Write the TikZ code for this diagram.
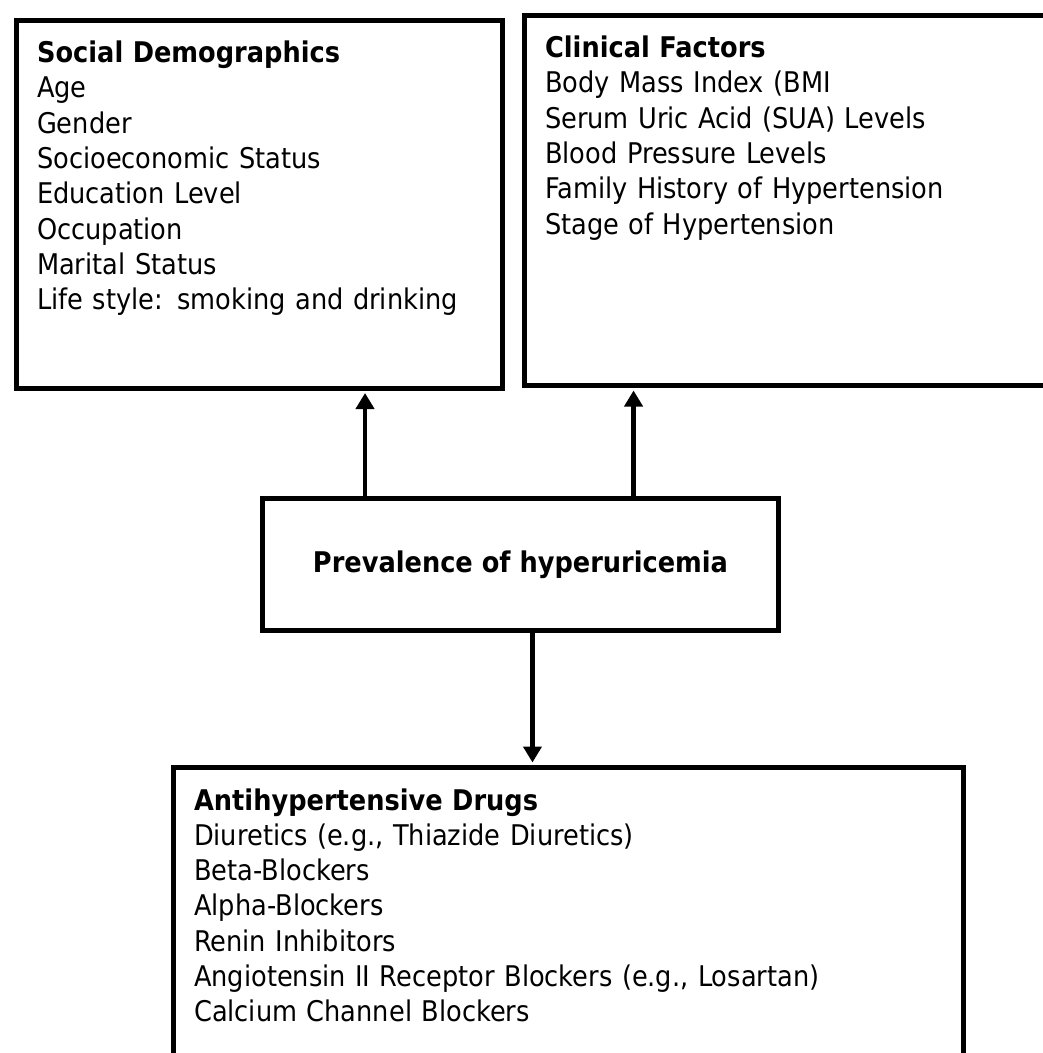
\documentclass[tikz,border=0pt]{standalone}
\usepackage{fontspec}
\setmainfont{DejaVu Sans}[FakeStretch=0.9]
\usepackage{tikz}
\usetikzlibrary{arrows.meta}
\usetikzlibrary{positioning,calc}
\tikzset{
  every node/.style={font=\fontsize{28.5}{35.3}\selectfont}
}

\begin{document}
\begin{tikzpicture}[x=1pt, y=-1pt]
  \tikzset{
    listbox/.style={
      draw,
      rectangle,
      line width=5pt,
      anchor=north west,
      align=left,
      inner xsep=20.6pt,
      inner ysep=20.5pt,
      text height=22pt,
    },
    mainbox/.style={
      draw,
      rectangle,
      line width=5pt,
      anchor=north west,
      inner sep=0pt,
      font=\fontsize{28.5}{35.3}\selectfont\bfseries,
    },
    link/.style={
      line width=4.5pt,
      -{Triangle[length=16pt, width=18pt]},
      shorten >=2.5pt,
    }
  }

  \useasboundingbox (0,0) rectangle (1043,1053);
  \clip (0,0) rectangle (1043,1053);

  % Factor boxes
  \node[listbox, text width=444.8pt, text depth=305pt] (social) at (14,17.5) {%
    \textbf{Social Demographics}\\
    Age\\
    Gender\\
    Socioeconomic Status\\
    Education Level\\
    Occupation\\
    Marital Status\\
    Life style: smoking and drinking};

  \node[listbox, text width=494.8pt, text depth=307.5pt] (clinical) at (522,12.5) {%
    \textbf{Clinical Factors}\\
    Body Mass Index (BMI\\
    Serum Uric Acid (SUA) Levels\\
    Blood Pressure Levels\\
    Family History of Hypertension\\
    Stage of Hypertension};

  % Central box
  \node[mainbox, minimum width=516pt, minimum height=132pt] (prev) at (260,496)
    {Prevalence of hyperuricemia};

  % Drugs box
  \node[listbox, text width=748.8pt, text depth=300pt] (drugs) at (171,765) {%
    \textbf{Antihypertensive Drugs}\\
    Diuretics (e.g., Thiazide Diuretics)\\
    Beta-Blockers\\
    Alpha-Blockers\\
    Renin Inhibitors\\
    Angiotensin II Receptor Blockers (e.g., Losartan)\\
    Calcium Channel Blockers};

  % Arrows
  \coordinate (p1) at ($(prev.north west)!0.2016!(prev.north east)$);
  \coordinate (p2) at ($(prev.north west)!0.717!(prev.north east)$);
  \coordinate (p3) at ($(prev.south west)!0.523!(prev.south east)$);
  \draw[link] (p1) -- (p1 |- social.south);
  \draw[link] (p2) -- (p2 |- clinical.south);
  \draw[link] (p3) -- (p3 |- drugs.north);
\end{tikzpicture}
\end{document}
